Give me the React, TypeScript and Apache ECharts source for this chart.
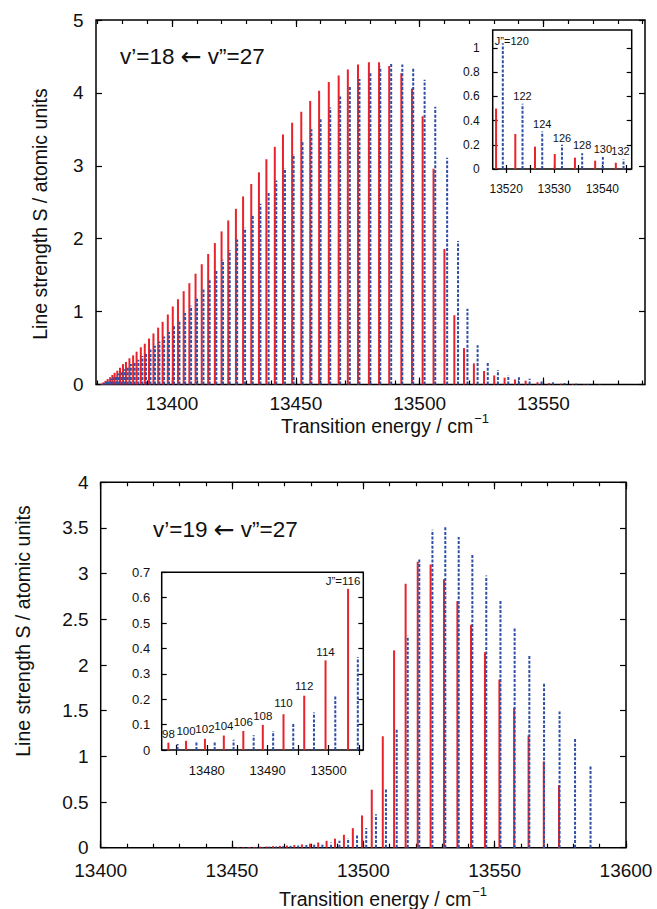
import React, { useEffect, useRef } from "react";
import * as echarts from "echarts";

// ---------- Data ----------
// Top panel: v'=18 <- v''=27
const TOP_RED_X = [13371.5, 13372.3, 13373.1, 13374.0, 13375.0, 13375.9, 13376.8, 13377.9, 13379.0, 13380.2, 13381.4, 13382.8, 13384.3, 13385.7, 13387.4, 13389.0, 13390.7, 13392.5, 13394.4, 13396.2, 13398.3, 13400.3, 13402.4, 13404.7, 13407.0, 13409.5, 13412.0, 13414.6, 13417.3, 13420.0, 13422.7, 13425.8, 13428.7, 13432.0, 13435.1, 13438.1, 13441.5, 13444.8, 13448.5, 13452.2, 13455.8, 13459.4, 13463.3, 13467.3, 13471.0, 13475.1, 13479.5, 13483.6, 13487.7, 13492.6, 13496.9, 13501.2, 13505.6, 13510.0, 13514.0, 13517.9, 13521.9, 13526.0, 13530.1, 13534.3, 13538.5, 13542.8, 13547.6, 13552.3, 13557.1, 13561.8, 13566.5];
const TOP_RED_Y = [0.01, 0.03, 0.05, 0.075, 0.1, 0.13, 0.16, 0.19, 0.23, 0.28, 0.31, 0.36, 0.4, 0.45, 0.51, 0.56, 0.63, 0.7, 0.78, 0.86, 0.96, 1.07, 1.17, 1.28, 1.39, 1.52, 1.65, 1.79, 1.94, 2.1, 2.25, 2.41, 2.58, 2.75, 2.91, 3.09, 3.26, 3.43, 3.59, 3.74, 3.89, 4.03, 4.15, 4.24, 4.32, 4.39, 4.42, 4.42, 4.37, 4.27, 4.06, 3.68, 2.96, 1.86, 0.95, 0.5, 0.29, 0.185, 0.124, 0.094, 0.069, 0.052, 0.032, 0.02, 0.012, 0.008, 0.005];
const TOP_BLUE_X = [13371.7, 13372.5, 13373.5, 13374.4, 13375.4, 13376.3, 13377.4, 13378.5, 13379.7, 13380.9, 13382.1, 13383.4, 13384.9, 13386.4, 13388.0, 13389.5, 13391.3, 13393.1, 13394.9, 13396.8, 13398.8, 13400.8, 13403.0, 13405.3, 13407.7, 13410.1, 13412.7, 13415.2, 13417.9, 13420.6, 13423.3, 13426.3, 13429.5, 13432.6, 13435.7, 13439.0, 13442.1, 13445.6, 13449.1, 13452.7, 13456.3, 13460.0, 13463.9, 13467.9, 13471.8, 13475.7, 13480.1, 13484.1, 13488.5, 13493.0, 13497.4, 13502.0, 13506.3, 13511.1, 13515.5, 13519.3, 13523.4, 13527.5, 13531.6, 13535.8, 13540.1, 13544.4, 13549.2, 13553.8, 13558.5, 13563.2, 13567.9, 13572.7];
const TOP_BLUE_Y = [0.01, 0.02, 0.04, 0.06, 0.08, 0.1, 0.13, 0.15, 0.18, 0.21, 0.24, 0.28, 0.31, 0.34, 0.39, 0.44, 0.48, 0.53, 0.59, 0.66, 0.72, 0.8, 0.88, 0.98, 1.08, 1.19, 1.32, 1.44, 1.57, 1.71, 1.84, 1.99, 2.15, 2.31, 2.48, 2.65, 2.8, 2.97, 3.16, 3.33, 3.5, 3.66, 3.8, 3.95, 4.08, 4.19, 4.29, 4.36, 4.4, 4.39, 4.33, 4.18, 3.81, 3.11, 1.97, 1.04, 0.54, 0.31, 0.2, 0.13, 0.1, 0.08, 0.05, 0.03, 0.02, 0.012, 0.008, 0.005];

// Bottom panel: v'=19 <- v''=27
const BOT_RED_X = [13452.1, 13454.1, 13456.2, 13458.4, 13460.7, 13463.1, 13465.6, 13468.2, 13470.9, 13473.7, 13476.6, 13479.7, 13482.8, 13486.0, 13489.2, 13492.6, 13496.0, 13499.5, 13503.2, 13507.4, 13511.7, 13516.1, 13520.7, 13525.6, 13530.7, 13535.8, 13541.0, 13546.3, 13551.8, 13557.4, 13562.9, 13568.7, 13574.5];
const BOT_RED_Y = [0.004, 0.005, 0.007, 0.009, 0.011, 0.014, 0.017, 0.02, 0.024, 0.029, 0.036, 0.044, 0.057, 0.075, 0.099, 0.141, 0.214, 0.353, 0.635, 1.22, 2.16, 2.89, 3.13, 3.1, 2.94, 2.7, 2.44, 2.14, 1.84, 1.53, 1.23, 0.945, 0.686];
const BOT_BLUE_X = [13452.7, 13454.8, 13457.0, 13459.3, 13461.7, 13464.2, 13466.8, 13469.5, 13472.3, 13475.2, 13478.3, 13481.3, 13484.4, 13487.7, 13490.9, 13494.2, 13497.6, 13501.1, 13504.8, 13508.6, 13512.7, 13516.9, 13521.3, 13526.3, 13531.2, 13536.3, 13541.5, 13546.8, 13552.2, 13557.6, 13563.2, 13568.8, 13574.7, 13580.6, 13586.5];
const BOT_BLUE_Y = [0.003, 0.004, 0.006, 0.007, 0.009, 0.012, 0.014, 0.017, 0.02, 0.024, 0.03, 0.036, 0.04, 0.058, 0.075, 0.103, 0.148, 0.217, 0.365, 0.65, 1.31, 2.32, 3.16, 3.48, 3.51, 3.4, 3.21, 2.98, 2.71, 2.41, 2.11, 1.8, 1.49, 1.19, 0.894];

// Inset J'' labels
const TOP_INSET_LABEL_X = [13519.3, 13523.4, 13527.5, 13531.6, 13535.8, 13540.1, 13544.4];
const TOP_INSET_LABEL_TEXT = ["J\u201D=120", "122", "124", "126", "128", "130", "132"];
const BOT_INSET_LABEL_X = [13473.7, 13476.6, 13479.7, 13482.8, 13486.0, 13489.2, 13492.6, 13496.0, 13499.5, 13503.2];
const BOT_INSET_LABEL_TEXT = ["98", "100", "102", "104", "106", "108", "110", "112", "114", "J\u201D=116"];

// Ticks and tick labels
const TOP_X_MINOR = [13370, 13380, 13390, 13400, 13410, 13420, 13430, 13440, 13450, 13460, 13470, 13480, 13490, 13500, 13510, 13520, 13530, 13540, 13550, 13560, 13570, 13580, 13590];
const TOP_X_MAJOR = [13400, 13450, 13500, 13550];
const TOP_Y_TICKS = [0, 1, 2, 3, 4, 5];
const TOP_INSET_X_TICKS = [13520, 13525, 13530, 13535, 13540, 13545];
const TOP_INSET_X_LABELS = [13520, 13530, 13540];
const TOP_INSET_Y_TICKS = [0, 0.2, 0.4, 0.6, 0.8, 1];
const BOT_X_MINOR = [13400, 13410, 13420, 13430, 13440, 13450, 13460, 13470, 13480, 13490, 13500, 13510, 13520, 13530, 13540, 13550, 13560, 13570, 13580, 13590, 13600];
const BOT_X_MAJOR = [13400, 13450, 13500, 13550, 13600];
const BOT_Y_TICKS = [0, 0.5, 1, 1.5, 2, 2.5, 3, 3.5, 4];
const BOT_INSET_X_TICKS = [13475, 13480, 13485, 13490, 13495, 13500, 13505];
const BOT_INSET_X_LABELS = [13480, 13490, 13500];
const BOT_INSET_Y_TICKS = [0, 0.1, 0.2, 0.3, 0.4, 0.5, 0.6, 0.7];

// ---------- helpers ----------
const FONT = '"Liberation Sans", Arial, Helvetica, sans-serif';
const ARROW_FONT = '"DejaVu Sans", sans-serif';
const RED = "#e8232b";
const BLUE = "#2f4fa6";
const INK = "#111";

const pairs = (xs: number[], ys: number[]) => xs.map((x, i) => [x, ys[i]]);
const within = (d: number[][], lo: number, hi: number) => d.filter((p) => p[0] >= lo && p[0] <= hi);
const fmt = (v: number) => String(parseFloat(Number(v).toFixed(3)));

function xAx(gridIndex: number, min: number, max: number, position: string, ticks: number[], tickLen: number, labels: number[], fontSize: number, margin: number, z: number) {
  return {
    type: "value", gridIndex, min, max, position, z,
    axisLine: { show: false },
    splitLine: { show: false },
    axisTick: { show: ticks.length > 0, inside: true, length: tickLen, customValues: ticks, lineStyle: { color: "#000", width: 1.2 } },
    axisLabel: { show: labels.length > 0, customValues: labels.length ? labels : undefined, fontSize, margin, color: INK, fontFamily: FONT, formatter: (v: number) => fmt(v) },
  };
}
function yAx(gridIndex: number, min: number, max: number, position: string, ticks: number[], tickLen: number, labels: number[], fontSize: number, margin: number, z: number) {
  return {
    type: "value", gridIndex, min, max, position, z,
    axisLine: { show: false },
    splitLine: { show: false },
    axisTick: { show: true, inside: true, length: tickLen, customValues: ticks, lineStyle: { color: "#000", width: 1.2 } },
    axisLabel: { show: labels.length > 0, customValues: labels.length ? labels : undefined, fontSize, margin, color: INK, fontFamily: FONT, formatter: (v: number) => fmt(v) },
  };
}
function stick(color: string, dash: number[] | null) {
  return (params: any, api: any) => {
    const x = api.value(0);
    const y = api.value(1);
    const a = api.coord([x, 0]);
    const b = api.coord([x, y]);
    return {
      type: "line",
      shape: { x1: a[0], y1: a[1], x2: b[0], y2: b[1] },
      style: { stroke: color, lineWidth: 2, lineDash: dash || undefined, fill: null },
    };
  };
}
function sticks(data: number[][], color: string, dash: number[] | null, xi: number, yi: number, z: number) {
  return { type: "custom", xAxisIndex: xi, yAxisIndex: yi, z, data, renderItem: stick(color, dash), silent: true };
}
function labelSeries(xs: number[], texts: string[], bx: number[], by: number[], xi: number, yi: number, z: number, fontSize: number, offsets: number[][]) {
  const data = xs.map((x, i) => {
    let best = 0;
    for (let k = 0; k < bx.length; k++) if (Math.abs(bx[k] - x) < Math.abs(bx[best] - x)) best = k;
    return {
      value: [x, by[best]],
      itemStyle: { color: INK, opacity: 0 },
      label: { formatter: texts[i], offset: offsets[i] || [0, 0], color: INK, fontSize, fontFamily: FONT },
    };
  });
  return {
    type: "scatter", xAxisIndex: xi, yAxisIndex: yi, z, symbolSize: 1, silent: true, data,
    itemStyle: { color: INK, opacity: 0 },
    label: { show: true, position: "top", distance: 2, fontSize, fontFamily: FONT, color: INK, opacity: 1 },
    emphasis: { disabled: true },
  };
}
function bandTitle(x: number, y: number, vUp: string, vLow: string) {
  return {
    type: "text", x, y, z: 20,
    style: {
      text: `{a|v\u2019=${vUp} }{r|\u2190}{a| v\u201D=${vLow}}`,
      fill: INK, align: "left", verticalAlign: "middle", textAlign: "left", textVerticalAlign: "middle",
      rich: {
        a: { fontSize: 22.5, fontFamily: FONT, fill: INK, lineHeight: 26 },
        r: { fontSize: 25, fontFamily: ARROW_FONT, fill: INK, lineHeight: 26 },
      },
    },
  };
}
function xTitle(x: number, y: number) {
  return {
    type: "text", x, y, z: 20,
    style: {
      text: "{a|Transition energy / cm}{b|\u22121}", fill: INK,
      align: "center", verticalAlign: "middle", textAlign: "center", textVerticalAlign: "middle",
      rich: {
        a: { fontSize: 19.5, fontFamily: FONT, fill: INK, lineHeight: 24, verticalAlign: "bottom" },
        b: { fontSize: 13, fontFamily: FONT, fill: INK, lineHeight: 24, verticalAlign: "top", padding: [0, 0, 8, 1] },
      },
    },
  };
}
function yTitle(x: number, y: number) {
  return {
    type: "text", x, y, rotation: Math.PI / 2, z: 20,
    style: { text: "Line strength S / atomic units", fontSize: 19.5, fontFamily: FONT, fill: INK, align: "center", verticalAlign: "middle", textAlign: "center", textVerticalAlign: "middle" },
  };
}

export default function App() {
  const ref = useRef<HTMLDivElement>(null);
  useEffect(() => {
    if (!ref.current) return;
    const chart = echarts.init(ref.current, undefined, { renderer: "svg" });

    const TOP_MIN = 13369.3, TOP_MAX = 13591;
    const TI_MIN = 13517.2, TI_MAX = 13546.1, TI_YMAX = 1.15;
    const BOT_MIN = 13400, BOT_MAX = 13600;
    const BI_MIN = 13472.6, BI_MAX = 13505.7;

    const topRed = pairs(TOP_RED_X, TOP_RED_Y);
    const topBlue = pairs(TOP_BLUE_X, TOP_BLUE_Y);
    const botRed = pairs(BOT_RED_X, BOT_RED_Y);
    const botBlue = pairs(BOT_BLUE_X, BOT_BLUE_Y);
    const dash = [3, 1.6];

    const gridBase = { show: true, borderColor: "#000", borderWidth: 1.5, containLabel: false };
    const option: any = {
      animation: false,
      backgroundColor: "#fff",
      grid: [
        { ...gridBase, left: 96, top: 20, width: 549, height: 364.5 },
        { ...gridBase, left: 492.7, top: 30, width: 139, height: 139, backgroundColor: "#fff", z: 10 },
        { ...gridBase, left: 100.7, top: 482.3, width: 525.3, height: 365.4 },
        { ...gridBase, left: 161.7, top: 572.3, width: 201.6, height: 177.7, backgroundColor: "#fff", z: 10 },
      ],
      xAxis: [
        xAx(0, TOP_MIN, TOP_MAX, "bottom", TOP_X_MINOR, 4, TOP_X_MAJOR, 19, 9, 1),
        xAx(0, TOP_MIN, TOP_MAX, "bottom", TOP_X_MAJOR, 7, [], 19, 9, 1),
        xAx(0, TOP_MIN, TOP_MAX, "top", TOP_X_MINOR, 4, [], 19, 13, 1),
        xAx(0, TOP_MIN, TOP_MAX, "top", TOP_X_MAJOR, 7, [], 19, 13, 1),
        xAx(1, TI_MIN, TI_MAX, "bottom", TOP_INSET_X_TICKS, 4, TOP_INSET_X_LABELS, 12, 13.5, 11),
        xAx(1, TI_MIN, TI_MAX, "top", TOP_INSET_X_TICKS, 4, [], 12, 13, 11),
        xAx(2, BOT_MIN, BOT_MAX, "bottom", BOT_X_MINOR, 4, BOT_X_MAJOR, 19, 13.5, 1),
        xAx(2, BOT_MIN, BOT_MAX, "bottom", BOT_X_MAJOR, 7, [], 19, 13, 1),
        xAx(2, BOT_MIN, BOT_MAX, "top", BOT_X_MINOR, 4, [], 19, 13, 1),
        xAx(2, BOT_MIN, BOT_MAX, "top", BOT_X_MAJOR, 7, [], 19, 13, 1),
        xAx(3, BI_MIN, BI_MAX, "bottom", BOT_INSET_X_TICKS, 5, BOT_INSET_X_LABELS, 13, 13.5, 11),
        xAx(3, BI_MIN, BI_MAX, "top", BOT_INSET_X_TICKS, 5, [], 13, 13, 11),
      ],
      yAxis: [
        yAx(0, 0, 5, "left", TOP_Y_TICKS, 6, TOP_Y_TICKS, 19, 12.5, 1),
        yAx(0, 0, 5, "right", TOP_Y_TICKS, 6, [], 19, 12, 1),
        yAx(1, 0, TI_YMAX, "left", TOP_INSET_Y_TICKS, 5, TOP_INSET_Y_TICKS, 12, 13, 11),
        yAx(1, 0, TI_YMAX, "right", TOP_INSET_Y_TICKS, 5, [], 12, 13, 11),
        yAx(2, 0, 4, "left", BOT_Y_TICKS, 6, BOT_Y_TICKS, 19, 12, 1),
        yAx(2, 0, 4, "right", BOT_Y_TICKS, 6, [], 19, 12, 1),
        yAx(3, 0, 0.7, "left", BOT_INSET_Y_TICKS, 5, BOT_INSET_Y_TICKS, 13, 11.5, 11),
        yAx(3, 0, 0.7, "right", BOT_INSET_Y_TICKS, 5, [], 13, 11.5, 11),
      ],
      series: [
        sticks(topRed, RED, null, 0, 0, 2),
        sticks(topBlue, BLUE, dash, 0, 0, 2),
        sticks(within(topRed, TI_MIN, TI_MAX), RED, null, 4, 2, 12),
        sticks(within(topBlue, TI_MIN, TI_MAX), BLUE, dash, 4, 2, 12),
        labelSeries(TOP_INSET_LABEL_X, TOP_INSET_LABEL_TEXT, TOP_BLUE_X, TOP_BLUE_Y, 4, 2, 13, 11,
          [[9, 6], [0, 0], [0, 0], [0, 1], [0, 0], [0, 0], [-3, 0]]),
        sticks(botRed, RED, null, 6, 4, 2),
        sticks(botBlue, BLUE, dash, 6, 4, 2),
        sticks(within(botRed, BI_MIN, BI_MAX), RED, null, 10, 6, 12),
        sticks(within(botBlue, BI_MIN, BI_MAX), BLUE, dash, 10, 6, 12),
        labelSeries(BOT_INSET_LABEL_X, BOT_INSET_LABEL_TEXT, BOT_RED_X, BOT_RED_Y, 10, 6, 13, 11.5,
          [[0, 0], [0, -1], [0, -1], [0, -1], [0, 0], [0, 0], [0, -3], [0, -1], [0, 0], [-5, 1]]),
      ],
      graphic: [
        yTitle(40, 214),
        yTitle(23, 631),
        bandTitle(120, 56, "18", "27"),
        bandTitle(153, 529.5, "19", "27"),
        xTitle(385, 424),
        xTitle(383, 897),
      ],
    };
    chart.setOption(option);
    return () => chart.dispose();
  }, []);
  return <div ref={ref} style={{ position: "fixed", left: 0, top: 0, width: 657, height: 909, background: "#fff" }} />;
}
